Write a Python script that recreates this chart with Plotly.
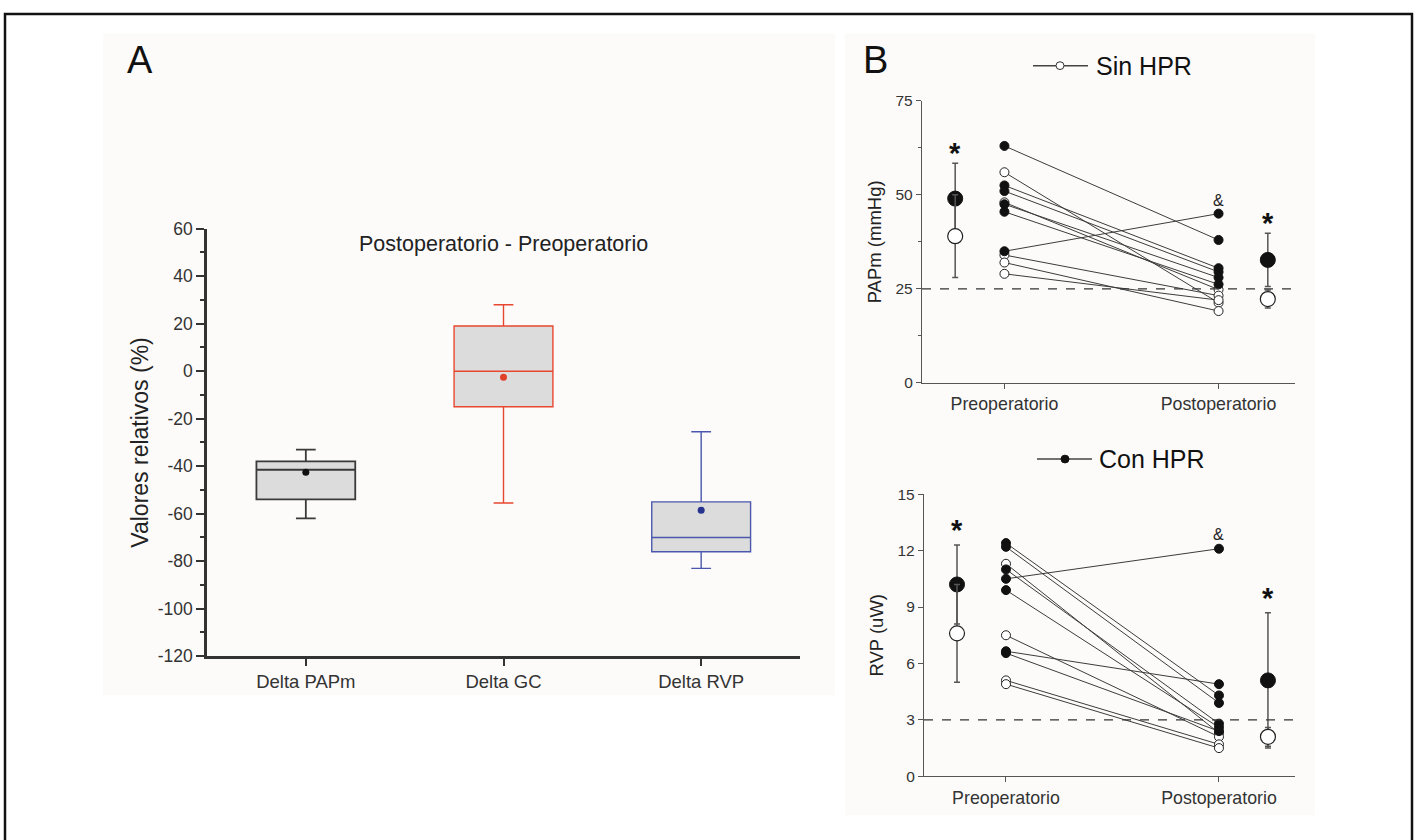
import plotly.graph_objects as go

# ---------------- data ----------------
# Panel A: box summaries (relative change, %)
BOX_CATS = ["Delta PAPm", "Delta GC", "Delta RVP"]
BOX_Q1 = [-54, -15, -76]
BOX_MEDIAN = [-41.5, 0, -70]
BOX_Q3 = [-38, 19, -55]
BOX_LOW = [-62, -55.5, -83]
BOX_HIGH = [-33, 28, -25.5]
BOX_MEAN = [-42.5, -2.5, -58.5]
BOX_LINE_COLORS = ["#3a3a3a", "#e8472f", "#4a57ad"]
BOX_MEAN_COLORS = ["#111111", "#e0402a", "#27338f"]
A_TICKS = [60, 40, 20, 0, -20, -40, -60, -80, -100, -120]
A_TICKTEXT = ["60", "40", "20", "0", "-20", "-40", "-60", "-80", "-100", "-120"]

# Panel B
TIME_CATS = ["Preoperatorio", "Postoperatorio"]

PAPM_CON_PRE = [63, 52.5, 51, 47.5, 45.5, 35]
PAPM_CON_POST = [38, 30.5, 29.5, 28, 26.2, 45]
PAPM_SIN_PRE = [56, 48, 34, 32, 29]
PAPM_SIN_POST = [21.3, 24.8, 23.2, 19.1, 22]
PAPM_CON_MEAN = [49, 32.7]
PAPM_CON_SD = [9.4, 7.1]
PAPM_SIN_MEAN = [39, 22.3]
PAPM_SIN_SD = [11, 2.4]
PAPM_STAR = [62.6, 44.2]
PAPM_AMP = 48.6
PAPM_REF = 25

RVP_CON_PRE = [12.4, 12.2, 11.0, 10.5, 9.9, 6.65, 6.55]
RVP_CON_POST = [4.3, 3.9, 2.8, 12.1, 2.6, 4.9, 2.4]
RVP_SIN_PRE = [11.3, 7.5, 5.1, 4.9]
RVP_SIN_POST = [2.3, 2.1, 1.7, 1.5]
RVP_CON_MEAN = [10.2, 5.1]
RVP_CON_SD = [2.1, 3.6]
RVP_SIN_MEAN = [7.6, 2.1]
RVP_SIN_SD = [2.6, 0.5]
RVP_STAR = [13.4, 9.8]
RVP_AMP = 12.85
RVP_REF = 3

# ---------------- layout helpers ----------------
W, H = 1416, 840
FONT = "Liberation Sans, Arial, sans-serif"
SUM_OFF = 0.23  # horizontal offset of the mean±SD markers


def fx(p):
    return p / W


def fy(p):
    return 1 - p / H


fig = go.Figure()

# ---------- Panel A ----------
for i, c in enumerate(BOX_CATS):
    fig.add_trace(go.Box(
        x=[c], q1=[BOX_Q1[i]], median=[BOX_MEDIAN[i]], q3=[BOX_Q3[i]],
        lowerfence=[BOX_LOW[i]], upperfence=[BOX_HIGH[i]],
        width=0.5, whiskerwidth=0.2, fillcolor="#dcdcdc",
        line=dict(color=BOX_LINE_COLORS[i], width=1.8 if i == 0 else 1.4),
        boxpoints=False, hoverinfo="skip", showlegend=False,
        xaxis="x", yaxis="y"))
fig.add_trace(go.Scatter(
    x=BOX_CATS, y=BOX_MEAN, mode="markers",
    marker=dict(color=BOX_MEAN_COLORS, size=7),
    showlegend=False, xaxis="x", yaxis="y"))

# ---------- Panel B ----------
pos = {c: i + 1 for i, c in enumerate(TIME_CATS)}
x_pre, x_post = pos[TIME_CATS[0]], pos[TIME_CATS[1]]
sum_x = [x_pre - SUM_OFF, x_post + SUM_OFF]


def pairs(pre, post):
    xs, ys = [], []
    for a, b in zip(pre, post):
        xs += [x_pre, x_post, None]
        ys += [a, b, None]
    return xs, ys


def panel_b(xa, ya, con_pre, con_post, sin_pre, sin_post,
            con_mean, con_sd, sin_mean, sin_sd):
    x1, y1 = pairs(con_pre, con_post)
    x2, y2 = pairs(sin_pre, sin_post)
    fig.add_trace(go.Scatter(x=x1 + x2, y=y1 + y2, mode="lines",
                             line=dict(color="#3c3c3c", width=1),
                             showlegend=False, hoverinfo="skip",
                             xaxis=xa, yaxis=ya))
    fig.add_trace(go.Scatter(
        x=[x_pre] * len(sin_pre) + [x_post] * len(sin_post),
        y=sin_pre + sin_post, mode="markers",
        marker=dict(size=9, color="white", line=dict(color="#222", width=1)),
        showlegend=False, xaxis=xa, yaxis=ya))
    fig.add_trace(go.Scatter(
        x=[x_pre] * len(con_pre) + [x_post] * len(con_post),
        y=con_pre + con_post, mode="markers",
        marker=dict(size=9, color="#111", line=dict(color="#111", width=1)),
        showlegend=False, xaxis=xa, yaxis=ya))
    fig.add_trace(go.Scatter(
        x=sum_x, y=con_mean, mode="markers",
        error_y=dict(type="data", array=con_sd, color="#555", thickness=1.5, width=3),
        marker=dict(size=15, color="#111", line=dict(color="#111", width=1)),
        showlegend=False, xaxis=xa, yaxis=ya))
    fig.add_trace(go.Scatter(
        x=sum_x, y=sin_mean, mode="markers",
        error_y=dict(type="data", array=sin_sd, color="#555", thickness=1.5, width=3),
        marker=dict(size=15, color="white", line=dict(color="#222", width=1.2)),
        showlegend=False, xaxis=xa, yaxis=ya))


panel_b("x2", "y2", PAPM_CON_PRE, PAPM_CON_POST, PAPM_SIN_PRE, PAPM_SIN_POST,
        PAPM_CON_MEAN, PAPM_CON_SD, PAPM_SIN_MEAN, PAPM_SIN_SD)
panel_b("x3", "y3", RVP_CON_PRE, RVP_CON_POST, RVP_SIN_PRE, RVP_SIN_POST,
        RVP_CON_MEAN, RVP_CON_SD, RVP_SIN_MEAN, RVP_SIN_SD)

# ---------------- axes ----------------
tickfont_a = dict(family=FONT, size=17.5, color="#333")
tickfont_b = dict(family=FONT, size=15.5, color="#333")
xlabfont_b = dict(family=FONT, size=17.8, color="#333")
ytitle_b = dict(family=FONT, size=18.5, color="#222")

xb_range = [0.615, 2.357]

fig.update_layout(
    width=W, height=H, autosize=False,
    margin=dict(l=0, r=0, t=0, b=0),
    paper_bgcolor="white", plot_bgcolor="rgba(0,0,0,0)",
    font=dict(family=FONT, color="#222"),
    showlegend=False,
    xaxis=dict(domain=[fx(207), fx(800)], range=[-0.5, 2.5], type="category",
               showline=True, linecolor="#333", linewidth=2.5,
               ticks="outside", ticklen=7, tickwidth=2, tickcolor="#333",
               tickfont=dict(family=FONT, size=18.5, color="#333"),
               showgrid=False, zeroline=False, anchor="y"),
    yaxis=dict(domain=[fy(662), fy(224)], range=[-120, 60],
               tickvals=A_TICKS, ticktext=A_TICKTEXT,
               showline=True, linecolor="#333", linewidth=2.5,
               ticks="outside", ticklen=8, tickwidth=2, tickcolor="#333",
               minor=dict(dtick=10, ticks="outside", ticklen=4, tickwidth=2, tickcolor="#333"),
               tickfont=tickfont_a, showgrid=False, zeroline=False, anchor="x",
               title=dict(text="Valores relativos (%)", font=dict(family=FONT, size=23, color="#222"),
                          standoff=3)),
    xaxis2=dict(domain=[fx(922), fx(1295)], range=xb_range,
                tickvals=[x_pre, x_post], ticktext=TIME_CATS,
                showline=True, linecolor="#555", linewidth=1.3,
                ticks="outside", ticklen=5, tickwidth=1.3, tickcolor="#555",
                tickfont=xlabfont_b, showgrid=False, zeroline=False, anchor="y2"),
    yaxis2=dict(domain=[fy(382), fy(93)], range=[0, 75], dtick=25,
                showline=True, linecolor="#555", linewidth=1.3,
                ticks="outside", ticklen=5, tickwidth=1.3, tickcolor="#555",
                minor=dict(dtick=12.5, ticks="outside", ticklen=3, tickwidth=1.3, tickcolor="#555"),
                tickfont=tickfont_b, showgrid=False, zeroline=False, anchor="x2",
                title=dict(text="PAPm (mmHg)", font=ytitle_b, standoff=9)),
    xaxis3=dict(domain=[fx(924), fx(1295)], range=xb_range,
                tickvals=[x_pre, x_post], ticktext=TIME_CATS,
                showline=True, linecolor="#555", linewidth=1.3,
                ticks="outside", ticklen=5, tickwidth=1.3, tickcolor="#555",
                tickfont=xlabfont_b, showgrid=False, zeroline=False, anchor="y3"),
    yaxis3=dict(domain=[fy(785), fy(496)], range=[0, 15], dtick=3,
                showline=True, linecolor="#555", linewidth=1.3,
                ticks="outside", ticklen=5, tickwidth=1.3, tickcolor="#555",
                tickfont=tickfont_b, showgrid=False, zeroline=False, anchor="x3",
                title=dict(text="RVP (uW)", font=ytitle_b, standoff=9)),
)

shapes = [
    # subtle off-white panel backgrounds
    dict(type="rect", xref="paper", yref="paper", x0=fx(103), x1=fx(835), y0=fy(702), y1=fy(24),
         fillcolor="#fcfbfa", line=dict(width=0), layer="below"),
    dict(type="rect", xref="paper", yref="paper", x0=fx(845), x1=fx(1315), y0=fy(825), y1=fy(24),
         fillcolor="#fcfbfa", line=dict(width=0), layer="below"),
    # outer frame (bottom edge lies outside the picture)
    dict(type="rect", xref="paper", yref="paper", x0=fx(5), x1=fx(1412), y0=-0.02, y1=fy(4),
         line=dict(color="#111", width=2.5), fillcolor="rgba(0,0,0,0)"),
    # reference lines
    dict(type="line", xref="x2 domain", yref="y2", x0=0, x1=1.01, y0=PAPM_REF, y1=PAPM_REF,
         line=dict(color="#333", width=1.3, dash="dash")),
    dict(type="line", xref="x3 domain", yref="y3", x0=0, x1=1.01, y0=RVP_REF, y1=RVP_REF,
         line=dict(color="#333", width=1.3, dash="dash")),
    # legend keys
    dict(type="line", xref="paper", yref="paper", x0=fx(1033), x1=fx(1088), y0=fy(57), y1=fy(57),
         line=dict(color="#444", width=1.5)),
    dict(type="circle", xref="paper", yref="paper", x0=fx(1056), x1=fx(1064), y0=fy(61), y1=fy(53),
         fillcolor="white", line=dict(color="#333", width=1)),
    dict(type="line", xref="paper", yref="paper", x0=fx(1037), x1=fx(1092), y0=fy(460), y1=fy(460),
         line=dict(color="#444", width=1.5)),
    dict(type="circle", xref="paper", yref="paper", x0=fx(1061), x1=fx(1069), y0=fy(464), y1=fy(456),
         fillcolor="#111", line=dict(color="#111", width=1)),
]
fig.update_layout(shapes=shapes)

ann = [
    dict(text="A", x=fx(140), y=fy(51), xref="paper", yref="paper", showarrow=False,
         font=dict(family=FONT, size=38, color="#111"), xanchor="center", yanchor="middle"),
    dict(text="B", x=fx(875), y=fy(51), xref="paper", yref="paper", showarrow=False,
         font=dict(family=FONT, size=38, color="#111"), xanchor="center", yanchor="middle"),
    dict(text="Postoperatorio - Preoperatorio", x=0.5, y=fy(240), xref="x domain", yref="paper",
         showarrow=False, font=dict(family=FONT, size=21.5, color="#222"), xanchor="center", yanchor="middle"),
    dict(text="Sin HPR", x=fx(1094), y=fy(57), xref="paper", yref="paper", showarrow=False,
         font=dict(family=FONT, size=25, color="#111"), xanchor="left", yanchor="middle"),
    dict(text="Con HPR", x=fx(1097), y=fy(460), xref="paper", yref="paper", showarrow=False,
         font=dict(family=FONT, size=25, color="#111"), xanchor="left", yanchor="middle"),
]
for xa, ya, stars, amp in (("x2", "y2", PAPM_STAR, PAPM_AMP), ("x3", "y3", RVP_STAR, RVP_AMP)):
    for sx, sy in zip(sum_x, stars):
        ann.append(dict(text="<b>*</b>", x=sx, y=sy, xref=xa, yref=ya, showarrow=False, yshift=-6,
                        font=dict(family=FONT, size=29, color="#111"), xanchor="center", yanchor="middle"))
    ann.append(dict(text="&", x=x_post, y=amp, xref=xa, yref=ya, showarrow=False,
                    font=dict(family=FONT, size=16, color="#222"), xanchor="center", yanchor="middle"))
fig.update_layout(annotations=ann)

fig.write_html("out.html", config={"displayModeBar": False},
               post_script="document.body.style.margin='0';")
